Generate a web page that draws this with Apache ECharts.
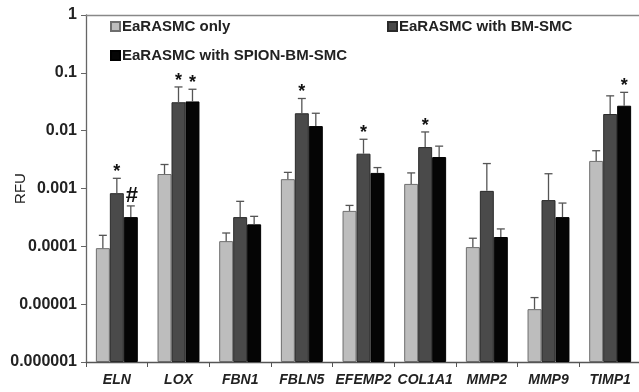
<!DOCTYPE html>
<html>
<head>
<meta charset="utf-8">
<script src="https://cdn.jsdelivr.net/npm/echarts@6/dist/echarts.min.js"></script>
<style>
  html, body { margin: 0; padding: 0; background: #fff; }
  #chart { width: 639px; height: 392px; }
</style>
</head>
<body>
<div id="chart"></div>
<script>
/* ========== RFU 柱状图（对数坐标） ========== */

const genes = ["ELN", "LOX", "FBN1", "FBLN5", "EFEMP2", "COL1A1", "MMP2", "MMP9", "TIMP1"];
const seriesNames = ["EaRASMC only", "EaRASMC with BM-SMC", "EaRASMC with SPION-BM-SMC"];

// 平均值
const onlyVals  = [0.000093, 0.00178, 0.000123, 0.00145, 0.00041, 0.0012, 0.000097, 0.0000082, 0.003];
const bmVals    = [0.00083, 0.031, 0.00032, 0.020, 0.0040, 0.0052, 0.00091, 0.00063, 0.0194];
const spionVals = [0.00032, 0.032, 0.00024, 0.012, 0.00186, 0.0035, 0.000145, 0.00032, 0.027];

// 误差棒顶端
const onlyErr  = [0.000155, 0.0026, 0.00017, 0.0019, 0.00051, 0.00186, 0.000138, 0.000013, 0.0045];
const bmErr    = [0.0015, 0.057, 0.0006, 0.036, 0.0071, 0.0095, 0.0027, 0.0018, 0.040];
const spionErr = [0.0005, 0.052, 0.00033, 0.020, 0.0023, 0.0054, 0.0002, 0.00056, 0.046];

// 显著性标记
const onlyMarks  = ["", "", "", "", "", "", "", "", ""];
const bmMarks    = ["*", "*", "", "*", "*", "*", "", "", ""];
const spionMarks = ["#", "*", "", "", "", "", "", "", "*"];

const yTicks = [0.000001, 0.00001, 0.0001, 0.001, 0.01, 0.1, 1];

// log 轴柱子从 1 开始画，所以整体乘以 1e6，让底部正好是 1
const SCALE = 1e6;
const sc = v => v * SCALE;

const colors = ["#bdbdbd", "#4a4a4a", "#050505"];
const borders = ["#6e6e6e", "#2a2a2a", "#000"];
const CAT_GAP = 0.32;

function fmtTick(v) {
    const real = v / SCALE;
    const e = Math.round(Math.log10(real));
    return e >= 0 ? String(Math.round(real)) : real.toFixed(-e);
}

function errSeries(idx, vals, errs, marks) {
    return {
        type: "custom",
        name: seriesNames[idx] + " err",
        silent: true,
        z: 5,
        data: genes.map((g, i) => [i, sc(vals[i]), sc(errs[i])]),
        renderItem: (params, api) => {
            const band = api.size([1, 0])[0];
            const bw = band * (1 - CAT_GAP) / 3;
            const base = api.coord([api.value(0), api.value(1)]);
            const top = api.coord([api.value(0), api.value(2)]);
            const x = base[0] + (idx - 1) * bw;
            const mark = marks[params.dataIndex];
            const children = [
                { type: "line", shape: { x1: x, y1: base[1], x2: x, y2: top[1] }, style: { stroke: "#555", lineWidth: 1.3 } },
                { type: "line", shape: { x1: x - 4, y1: top[1], x2: x + 4, y2: top[1] }, style: { stroke: "#555", lineWidth: 1.3 } }
            ];
            if (mark) {
                children.push({
                    type: "text",
                    style: {
                        text: mark, x: mark === "#" ? x + 1 : x, y: mark === "#" ? top[1] + 1 : top[1] + 3,
                        align: "center", verticalAlign: "bottom",
                        font: mark === "#" ? "bold 22px Arial" : "bold 18px Arial",
                        fill: "#111"
                    }
                });
            }
            return { type: "group", children: children };
        }
    };
}

function barSeries(idx, vals) {
    return {
        type: "bar",
        name: seriesNames[idx],
        data: vals.map(sc),
        barGap: "0%",
        barCategoryGap: (CAT_GAP * 100) + "%",
        itemStyle: { color: colors[idx], borderColor: borders[idx], borderWidth: 1 }
    };
}

function legendAt(idx, left, top) {
    return {
        data: [seriesNames[idx]],
        left: left, top: top, padding: 0,
        icon: "rect", itemWidth: 9, itemHeight: 9, itemGap: 4,
        textStyle: { fontFamily: "Arial", fontWeight: "bold", fontSize: 15, color: "#222", padding: [0, 0, 0, -3] }
    };
}

const chart = echarts.init(document.getElementById("chart"));
chart.setOption({
    animation: false,
    backgroundColor: "#fff",
    legend: [legendAt(0, 110, 19), legendAt(1, 387, 19), legendAt(2, 110, 48)],
    grid: { left: 86, right: -2, top: 15, bottom: 30, outerBoundsMode: "none", containLabel: false },
    xAxis: [{
        type: "category",
        data: genes,
        axisLine: { lineStyle: { color: "#555", width: 1.3 } },
        axisTick: { show: true, length: 5, lineStyle: { color: "#555" } },
        axisLabel: { fontFamily: "Arial", fontWeight: "bold", fontStyle: "italic", fontSize: 14, color: "#222", margin: 11, interval: 0 }
    }, {
        type: "category",
        data: genes,
        position: "top",
        axisLine: { lineStyle: { color: "#888", width: 1.3 } },
        axisTick: { show: false },
        axisLabel: { show: false }
    }],
    yAxis: {
        type: "log",
        logBase: 10,
        min: sc(yTicks[0]),
        max: sc(yTicks[yTicks.length - 1]),
        name: "RFU",
        nameLocation: "middle",
        nameGap: 58,
        nameMoveOverlap: false,
        nameTextStyle: { fontFamily: "Arial", fontSize: 15, color: "#222" },
        axisLine: { show: true, lineStyle: { color: "#666", width: 1.3 } },
        axisTick: { show: true, length: 5, lineStyle: { color: "#666" } },
        splitLine: { show: false },
        axisLabel: { formatter: fmtTick, fontFamily: "Arial", fontWeight: "bold", fontSize: 16, color: "#222", margin: 9 }
    },
    series: [
        barSeries(0, onlyVals),
        barSeries(1, bmVals),
        barSeries(2, spionVals),
        errSeries(0, onlyVals, onlyErr, onlyMarks),
        errSeries(1, bmVals, bmErr, bmMarks),
        errSeries(2, spionVals, spionErr, spionMarks)
    ]
});
</script>
</body>
</html>
